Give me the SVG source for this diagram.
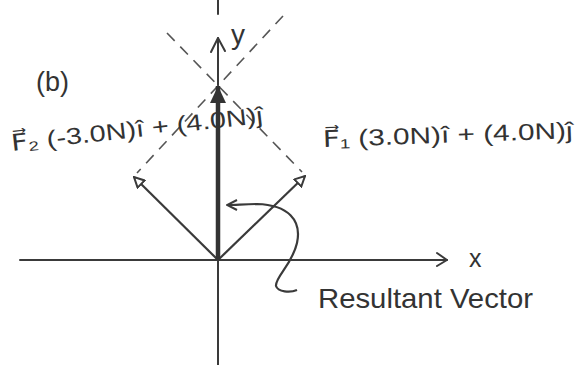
<svg xmlns="http://www.w3.org/2000/svg" width="580" height="365" viewBox="0 0 580 365">
<style>
.ax{stroke:#3a3a3a;stroke-width:2;fill:none;stroke-linecap:round;stroke-linejoin:round}
.vec{stroke:#3a3a3a;stroke-width:2.2;fill:none}
.dash{stroke:#555;stroke-width:1.6;fill:none;stroke-dasharray:11 8}
.res{stroke:#333;stroke-width:4.5;fill:none}
.t{font-family:"Liberation Sans","DejaVu Sans",sans-serif;fill:#333}
</style>
<defs>
<marker id="open" viewBox="0 0 12 12" refX="11" refY="6" markerWidth="12" markerHeight="12" markerUnits="userSpaceOnUse" orient="auto">
<path d="M1,1 L11,6 L1,11 Z" fill="#fff" stroke="#3a3a3a" stroke-width="2"/>
</marker>
<marker id="solid" viewBox="0 0 18 18" refX="17" refY="9" markerWidth="18" markerHeight="18" markerUnits="userSpaceOnUse" orient="auto">
<path d="M0,1 L17,9 L0,17 Z" fill="#333"/>
</marker>
<marker id="curv" viewBox="0 0 12 12" refX="11" refY="6" markerWidth="12" markerHeight="12" markerUnits="userSpaceOnUse" orient="auto">
<path d="M1,1 L11,6 L1,11" fill="none" stroke="#3a3a3a" stroke-width="2"/>
</marker>
</defs>
<rect width="580" height="365" fill="#fff"/>
<g id="connectors">
<line class="ax" x1="218" y1="0" x2="218" y2="14"/>
<line class="ax" x1="218" y1="365" x2="218" y2="38"/>
<polyline class="ax" points="211,52 218,38 225,51"/>
<line class="ax" x1="20" y1="260" x2="447" y2="260"/>
<polyline class="ax" points="437,253 447,260 437,266"/>
<line class="dash" x1="167" y1="33" x2="302" y2="172"/>
<line class="dash" x1="283" y1="16" x2="137" y2="173"/>
<line class="vec" x1="218" y1="260" x2="134" y2="177" marker-end="url(#open)"/>
<line class="vec" x1="218" y1="260" x2="305" y2="176" marker-end="url(#open)"/>
<line class="res" x1="218" y1="260" x2="218" y2="86" marker-end="url(#solid)"/>
<path class="vec" d="M297,290 C290,293 278,292 276,286 C275,277 292,265 297,243 C302,220 288,205 257,204 C245,204 236,205 227,205" marker-end="url(#curv)"/>
</g>
<g id="label-b"><text class="t" x="36" y="91" font-size="27">(b)</text></g>
<g id="label-y"><text class="t" x="231" y="44" font-size="28">y</text></g>
<g id="label-x"><text class="t" x="469" y="267" font-size="25">x</text></g>
<g id="label-F2"><text class="t" x="12" y="151" font-size="23" textLength="253" lengthAdjust="spacingAndGlyphs" transform="rotate(-6.4 12 151)">F⃗₂ (-3.0N)î + (4.0N)ĵ</text></g>
<g id="label-F1"><text class="t" x="323" y="147" font-size="23" textLength="250" lengthAdjust="spacingAndGlyphs" transform="rotate(-2 323 147)">F⃗₁ (3.0N)î + (4.0N)ĵ</text></g>
<g id="label-res"><text class="t" x="318" y="308" font-size="28" textLength="215" lengthAdjust="spacingAndGlyphs">Resultant Vector</text></g>
</svg>
